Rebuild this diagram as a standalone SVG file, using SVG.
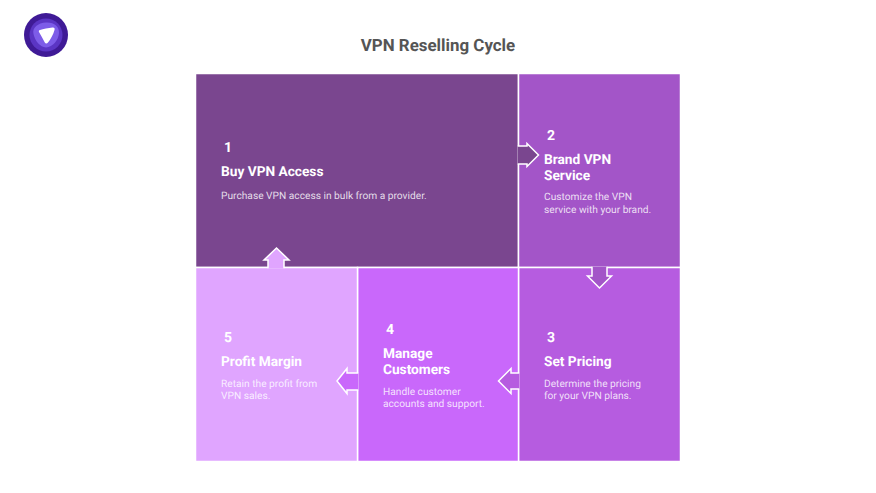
<svg xmlns="http://www.w3.org/2000/svg" width="876" height="493" viewBox="0 0 876 493">
<style>
text{font-family:Roboto,"Liberation Sans",sans-serif;fill:#fff;text-rendering:geometricPrecision}
.cell{stroke:#fff;stroke-width:1.5}
.arrow{stroke:#fff;stroke-width:1.5;stroke-linejoin:miter}
.n{font-size:14px;font-weight:700}
.h{font-size:13.700px;font-weight:700;fill:#fff}
.d{font-size:10.200px;fill-opacity:.82}
.t{font-size:16.900px;font-weight:700;fill:#555;text-anchor:middle}
</style>
<rect width="876" height="493" fill="#fff"/>
<g id="logo">
<circle cx="46" cy="35" r="22" fill="#3F1A96"/>
<circle cx="46" cy="35" r="16.500" fill="#5B35C4"/>
<path d="M46 22.500C54 22 59.500 26.500 59 33C58.500 40 53 47 46 47.500C40 47 35 41 33.500 34C32 27.500 38 23 46 22.500Z" fill="#7D5CE8"/>
<path d="M40 30C43 29 48.500 28 52.500 27.500C54.500 27.300 55 28.500 54.500 30C53.300 34.500 50.500 39.500 48 42.500C47 43.800 45.500 43.800 44.800 42.500C43 39 41 35.500 39 32C38.500 31 39 30.300 40 30Z" fill="#fff"/>
</g>
<text class="t" x="438" y="51">VPN Reselling Cycle</text>
<g id="node-1"><rect class="cell" x="195.500" y="73.500" width="323" height="194" fill="#7A468F"/>
<text class="n" x="224" y="152">1</text><text class="h" x="221" y="175.500">Buy VPN Access</text><text class="d" x="221" y="199">Purchase VPN access in bulk from a provider.</text></g>
<g id="node-2"><rect class="cell" x="518.500" y="73.500" width="162" height="194" fill="#A355C8"/>
<text class="n" x="547" y="140">2</text><text class="h" x="544" y="163.500">Brand VPN</text><text class="h" x="544" y="179.500">Service</text><text class="d" x="544" y="200">Customize the VPN</text><text class="d" x="544" y="213">service with your brand.</text></g>
<g id="node-3"><rect class="cell" x="518.500" y="267.500" width="162" height="194" fill="#B65CE0"/>
<text class="n" x="547" y="342">3</text><text class="h" x="544" y="365.500">Set Pricing</text><text class="d" x="544" y="387">Determine the pricing</text><text class="d" x="544" y="399">for your VPN plans.</text></g>
<g id="node-4"><rect class="cell" x="357.500" y="267.500" width="161" height="194" fill="#C968FB"/>
<text class="n" x="386" y="334">4</text><text class="h" x="383" y="357.500">Manage</text><text class="h" x="383" y="373.500">Customers</text><text class="d" x="383" y="395">Handle customer</text><text class="d" x="383" y="407">accounts and support.</text></g>
<g id="node-5"><rect class="cell" x="195.500" y="267.500" width="162" height="194" fill="#E0A5FF"/>
<text class="n" x="224" y="342">5</text><text class="h" x="221" y="365.500">Profit Margin</text><text class="d" x="221" y="387">Retain the profit from</text><text class="d" x="221" y="399">VPN sales.</text></g>
<g id="connectors">
<path class="arrow" fill="#7A468F" d="M517.750 146H527V143.500L538.500 155L527 166.500V164H517.750"/>
<path class="arrow" fill="#A355C8" d="M592 266.750V276H587.500L599.500 288L611.500 276H607V266.750"/>
<path class="arrow" fill="#B65CE0" d="M519.250 373H511V368.500L498.500 381L511 393.500V389H519.250"/>
<path class="arrow" fill="#C968FB" d="M358.250 373H347V368.500L337 381L347 393.500V390H358.250"/>
<path class="arrow" fill="#E0A5FF" d="M268 268.250V260H264L276.500 248L289 260H284V268.250"/>
</g>
</svg>
